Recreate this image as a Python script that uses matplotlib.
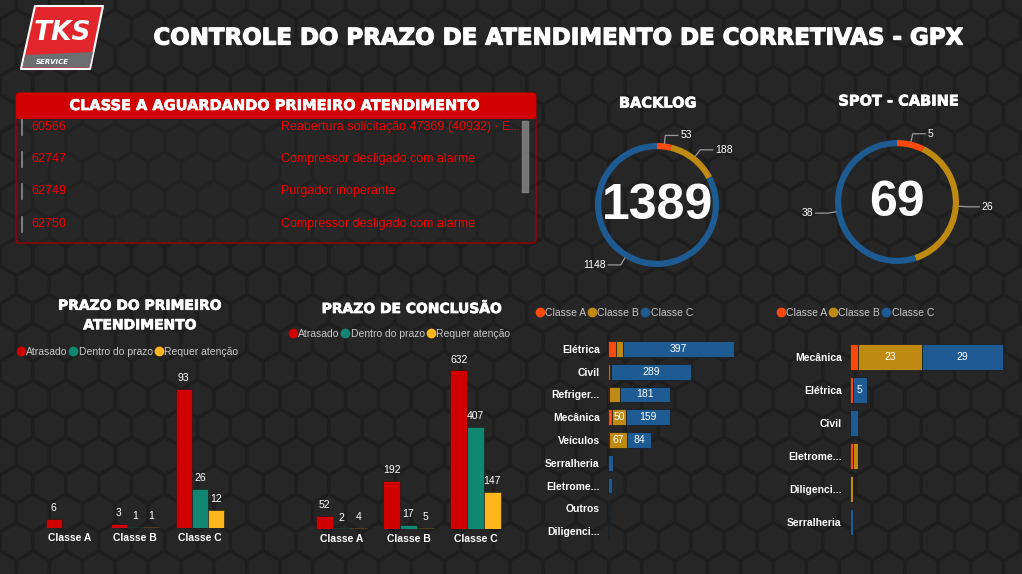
import numpy as np
import matplotlib
matplotlib.use("Agg")
import matplotlib.pyplot as plt
import matplotlib.patheffects as pe
from matplotlib.patches import Rectangle, FancyBboxPatch, Polygon
from matplotlib.collections import PolyCollection
from matplotlib.lines import Line2D

# =========================
# DADOS
# =========================
classes = ["Classe A", "Classe B", "Classe C"]

primeiro_atrasado = [6, 3, 93]
primeiro_dentro = [0, 1, 26]
primeiro_requer = [0, 1, 12]

conclusao_atrasado = [52, 192, 632]
conclusao_dentro = [2, 17, 407]
conclusao_requer = [4, 5, 147]

backlog_total = [53, 188, 1148]
spot_total = [5, 26, 38]

backlog_cats = ["Elétrica", "Civil", "Refriger...", "Mecânica", "Veículos",
                "Serralheria", "Eletrome...", "Outros", "Diligenci..."]
backlog_a = [27, 6, 4, 14, 2, 0, 0, 0, 0]
backlog_b = [28, 5, 38, 50, 67, 0, 0, 0, 0]
backlog_c = [397, 289, 181, 159, 84, 18, 14, 3, 3]

spot_cats = ["Mecânica", "Elétrica", "Civil", "Eletrome...", "Diligenci...", "Serralheria"]
spot_a = [3, 1, 0, 1, 0, 0]
spot_b = [23, 0, 0, 2, 1, 0]
spot_c = [29, 5, 3, 0, 0, 1]

tabela_id = ["60566", "62747", "62749", "62750"]
tabela_desc = ["Reabertura solicitação 47369 (40932) - E...",
               "Compressor desligado com alarme",
               "Purgador inoperante",
               "Compressor desligado com alarme"]

# =========================
# ESTILO
# =========================
W, H = 1022, 574
COR_A = "#fc4a0c"
COR_B = "#bf8a12"
COR_C = "#1f5b93"
COR_ATRASADO = "#d10000"
COR_DENTRO = "#118672"
COR_REQUER = "#fdb71a"
SANS = "Liberation Sans"
BOLD = "DejaVu Sans"
GROSSO = [pe.withStroke(linewidth=0.9, foreground="white")]
GROSSO_P = [pe.withStroke(linewidth=0.5, foreground="white")]

fig = plt.figure(figsize=(W / 100, H / 100), dpi=100)
fig.patch.set_facecolor("#1e1e1e")


def caixa(x0, y0, x1, y1):
    return [x0 / W, 1 - y1 / H, (x1 - x0) / W, (y1 - y0) / H]


# fundo hexagonal
bg = fig.add_axes([0, 0, 1, 1])
bg.set_xlim(0, W)
bg.set_ylim(H, 0)
bg.axis("off")
bg.add_patch(Rectangle((0, 0), W, H, color="#1e1e1e", zorder=0))
r = 19.0
dx = r * np.sqrt(3)
dy = 1.5 * r
hexs = []
ang = np.radians(np.arange(6) * 60 + 30)
for j in range(-1, int(H / dy) + 2):
    for i in range(-1, int(W / dx) + 2):
        cx = i * dx + (dx / 2 if j % 2 else 0)
        cy = j * dy
        hexs.append(np.column_stack([cx + (r - 2) * np.cos(ang), cy + (r - 2) * np.sin(ang)]))
bg.add_collection(PolyCollection(hexs, facecolors="#262626", edgecolors="none", zorder=1))

# logo
bg.add_patch(Polygon([(35, 6), (103, 6), (90, 69), (21, 69)], closed=True,
                     facecolor="#e3262b", edgecolor="white", lw=1.5, joinstyle="round", zorder=3))
bg.add_patch(Polygon([(25, 55), (93, 52), (89.5, 67.5), (22.5, 67.5)], closed=True,
                     facecolor="#6d6e70", edgecolor="none", zorder=4))
bg.text(62, 33, "TKS", color="white", fontsize=19, fontweight="bold", fontstyle="italic",
        family=BOLD, ha="center", va="center", zorder=5)
bg.text(52, 62, "SERVICE", color="white", fontsize=5, fontweight="bold", fontstyle="italic",
        family=BOLD, ha="center", va="center", zorder=5)

# titulo
bg.text(558, 38, "CONTROLE DO PRAZO DE ATENDIMENTO DE CORRETIVAS - GPX", color="white",
        fontsize=16.5, fontweight="bold", family=BOLD, ha="center", va="center", zorder=5,
        path_effects=GROSSO)

# tabela
bg.add_patch(FancyBboxPatch((16, 93), 520, 150, boxstyle="round,pad=0,rounding_size=3",
                            facecolor="#2a2a2a", alpha=0.35, edgecolor="none", zorder=2))
bg.add_patch(FancyBboxPatch((16, 93), 520, 150, boxstyle="round,pad=0,rounding_size=3",
                            facecolor="none", edgecolor="#a00000", lw=1, zorder=3))
bg.add_patch(FancyBboxPatch((16, 93), 520, 26, boxstyle="round,pad=0,rounding_size=3",
                            facecolor="#d20000", edgecolor="none", zorder=4))
bg.text(276, 105.5, "CLASSE A AGUARDANDO PRIMEIRO ATENDIMENTO", color="white", fontsize=10.5,
        fontweight="bold", family=BOLD, ha="center", va="center", zorder=5, path_effects=GROSSO_P)
linhas_y = [127, 159, 191, 224]
for y, cod, desc in zip(linhas_y, tabela_id, tabela_desc):
    bg.plot([22, 22], [y - 7, y + 8], color="#8c8c8c", lw=1.2, zorder=4)
    bg.text(31, y, cod, color="#f00000", fontsize=9, family=SANS, va="center", zorder=5)
    bg.text(281, y, desc, color="#f00000", fontsize=9, family=SANS, va="center", zorder=5)
bg.add_patch(Rectangle((522, 121), 6, 71, color="#8a8a8a", alpha=0.8, zorder=4))

# titulos dos graficos
bg.text(658, 103, "BACKLOG", color="white", fontsize=10.5, fontweight="bold", family=BOLD,
        ha="center", va="center", zorder=5, path_effects=GROSSO_P)
bg.text(899, 101, "SPOT - CABINE", color="white", fontsize=10.5, fontweight="bold", family=BOLD,
        ha="center", va="center", zorder=5, path_effects=GROSSO_P)
bg.text(140, 315.5, "PRAZO DO PRIMEIRO\nATENDIMENTO", color="white", fontsize=10, fontweight="bold",
        family=BOLD, ha="center", va="center", linespacing=1.5, zorder=5, path_effects=GROSSO_P)
bg.text(412, 309, "PRAZO DE CONCLUSÃO", color="white", fontsize=10, fontweight="bold",
        family=BOLD, ha="center", va="center", zorder=5, path_effects=GROSSO_P)


def legenda(x, y, nomes, cores):
    handles = [Line2D([], [], marker="o", ls="", color=c, markersize=6) for c in cores]
    leg = fig.legend(handles, nomes, loc="center left", bbox_to_anchor=(x / W, 1 - y / H),
                     ncol=len(nomes), frameon=False, handlelength=0.7, handletextpad=0.15,
                     columnspacing=0.25, borderpad=0, borderaxespad=0,
                     prop={"family": SANS, "size": 7.5})
    for t in leg.get_texts():
        t.set_color("#c8c8c8")


legenda(536, 313, ["Classe A", "Classe B", "Classe C"], [COR_A, COR_B, COR_C])
legenda(777, 313, ["Classe A", "Classe B", "Classe C"], [COR_A, COR_B, COR_C])
legenda(17, 352, ["Atrasado", "Dentro do prazo", "Requer atenção"], [COR_ATRASADO, COR_DENTRO, COR_REQUER])
legenda(289, 334, ["Atrasado", "Dentro do prazo", "Requer atenção"], [COR_ATRASADO, COR_DENTRO, COR_REQUER])


# =========================
# ROSCAS
# =========================
def rosca(cx, cy, valores, total_txt):
    R = 62
    ax = fig.add_axes(caixa(cx - 1.6 * R, cy - 1.6 * R, cx + 1.6 * R, cy + 1.6 * R))
    ax.pie(valores, colors=[COR_A, COR_B, COR_C], startangle=90, counterclock=False,
           wedgeprops={"width": 0.1, "edgecolor": "none"})
    ax.set_xlim(-1.6, 1.6)
    ax.set_ylim(-1.6, 1.6)
    ax.set_aspect("equal")
    ax.axis("off")
    soma = sum(valores)
    acum = 0
    for v in valores:
        meio = (acum + v / 2) / soma
        acum += v
        th = np.radians(90 - 360 * meio)
        c, s = np.cos(th), np.sin(th)
        p0 = (1.0 * c, 1.0 * s)
        p1 = (1.13 * c, 1.13 * s)
        sinal = 1 if c >= 0 else -1
        p2 = (p1[0] + sinal * 0.2, p1[1])
        ax.plot([p0[0], p1[0], p2[0]], [p0[1], p1[1], p2[1]], color="#9a9a9a", lw=0.9,
                clip_on=False)
        ax.text(p2[0] + sinal * 0.04, p2[1], str(v), color="white", fontsize=7.5, family=SANS,
                ha="left" if sinal > 0 else "right", va="center")
    ax.text(0, -0.02, total_txt, color="white", fontsize=36, fontweight="bold", family=SANS,
            ha="center", va="center")


rosca(657, 205, backlog_total, "1389")
rosca(897, 202, spot_total, "69")


# =========================
# BARRAS HORIZONTAIS
# =========================
def barras_h(pos, xmax, cats, a, b, c, altura):
    ax = fig.add_axes(caixa(*pos))
    ax.set_facecolor("none")
    y = np.arange(len(cats))
    escala = (pos[2] - pos[0]) / xmax
    esq = np.zeros(len(cats))
    for vals, cor in [(a, COR_A), (b, COR_B), (c, COR_C)]:
        vals = np.array(vals, dtype=float)
        ax.barh(y, vals, left=esq, height=altura, color=cor, edgecolor="#1a1a1a", lw=0.5)
        for yi, l, v in zip(y, esq, vals):
            if v * escala >= 12:
                ax.text(l + v / 2, yi, f"{int(v)}", color="white", fontsize=7.5, family=SANS,
                        ha="center", va="center")
        esq = esq + vals
    ax.set_xlim(0, xmax)
    ax.set_ylim(len(cats) - 0.5, -0.5)
    ax.set_yticks(y)
    ax.set_yticklabels(cats, color="white", fontsize=7.5, fontweight="bold", family=SANS)
    ax.tick_params(axis="y", length=0, pad=6)
    ax.set_xticks([])
    for s in ax.spines.values():
        s.set_visible(False)


barras_h((608, 337.6, 760, 542.4), 547, backlog_cats, backlog_a, backlog_b, backlog_c, 0.7)
barras_h((850, 340.5, 1015, 538.5), 59.35, spot_cats, spot_a, spot_b, spot_c, 0.76)


# =========================
# BARRAS VERTICAIS
# =========================
def barras_v(pos, ymax, atras, dentro, requer):
    ax = fig.add_axes(caixa(*pos))
    ax.set_facecolor("none")
    x = np.arange(len(classes))
    w = 0.25
    for k, (vals, cor) in enumerate([(atras, COR_ATRASADO), (dentro, COR_DENTRO), (requer, COR_REQUER)]):
        xs = x + (k - 1) * w
        ax.bar(xs, vals, width=w, color=cor, edgecolor="#1a1a1a", lw=0.4)
        for xi, v in zip(xs, vals):
            if v > 0:
                ax.annotate(str(v), (xi, v), xytext=(0, 4), textcoords="offset points",
                            color="white", fontsize=7.5, family=SANS, ha="center", va="bottom")
    ax.set_xlim(-0.77, 2.77)
    ax.set_ylim(0, ymax)
    ax.set_xticks(x)
    ax.set_xticklabels(classes, color="white", fontsize=7.5, fontweight="bold", family=SANS)
    ax.tick_params(axis="x", length=0, pad=3.5)
    ax.set_yticks([])
    for s in ax.spines.values():
        s.set_visible(False)


barras_v((20, 378, 250, 528), 100, primeiro_atrasado, primeiro_dentro, primeiro_requer)
barras_v((290, 359, 527, 529), 676, conclusao_atrasado, conclusao_dentro, conclusao_requer)

fig.savefig("out.png", dpi=100, facecolor=fig.get_facecolor())
